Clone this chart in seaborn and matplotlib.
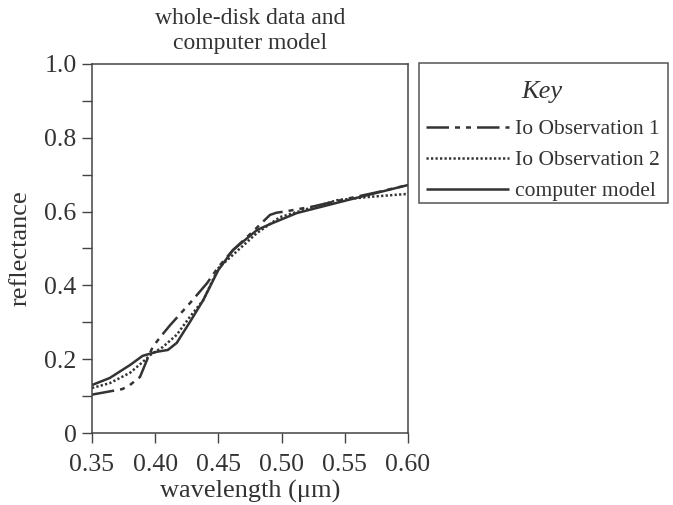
#!/usr/bin/env python3

import seaborn as sns
import matplotlib.pyplot as plt
from matplotlib.patches import Rectangle
from matplotlib.ticker import MultipleLocator, FixedLocator

# data
model_wl = [0.350, 0.364, 0.380, 0.390, 0.401, 0.410, 0.417, 0.4275, 0.438, 0.450,
            0.4616, 0.4805, 0.4908, 0.512, 0.552, 0.600]
model_refl = [0.130, 0.149, 0.184, 0.209, 0.220, 0.225, 0.244, 0.301, 0.360, 0.442,
              0.496, 0.550, 0.566, 0.596, 0.631, 0.672]

obs1_wl = [0.350, 0.374, 0.380, 0.388, 0.3935, 0.398, 0.404, 0.412, 0.4275, 0.441,
           0.450, 0.4616, 0.477, 0.4908, 0.496, 0.504, 0.525, 0.552, 0.575, 0.600]
obs1_refl = [0.104, 0.119, 0.130, 0.152, 0.198, 0.233, 0.260, 0.293, 0.352, 0.406,
             0.450, 0.496, 0.545, 0.591, 0.597, 0.601, 0.614, 0.635, 0.652, 0.672]

obs2_wl = [0.350, 0.364, 0.380, 0.390, 0.396, 0.406, 0.417, 0.4275, 0.438, 0.450,
           0.4805, 0.4987, 0.525, 0.544, 0.570, 0.600]
obs2_refl = [0.122, 0.135, 0.163, 0.192, 0.211, 0.233, 0.266, 0.315, 0.360, 0.447,
             0.542, 0.585, 0.612, 0.631, 0.640, 0.648]

x_ticks = [0.35, 0.40, 0.45, 0.50, 0.55, 0.60]
y_ticks = [0, 0.2, 0.4, 0.6, 0.8, 1.0]
y_labels = ['0', '0.2', '0.4', '0.6', '0.8', '1.0']

sns.set_style('white')
plt.rcParams['font.family'] = ['Liberation Serif', 'DejaVu Serif']

ink = '#333333'
lw = 1.8
W, H = 673, 505

fig = plt.figure(figsize=(6.73, 5.05), dpi=100)
ax = fig.add_axes([92 / W, 72 / H, 316 / W, 369 / H])

sns.lineplot(x=obs1_wl, y=obs1_refl, ax=ax, color=ink, lw=lw,
             label='Io Observation 1')
sns.lineplot(x=obs2_wl, y=obs2_refl, ax=ax, color=ink, lw=lw,
             label='Io Observation 2')
sns.lineplot(x=model_wl, y=model_refl, ax=ax, color=ink, lw=lw,
             label='computer model')

lines = ax.get_lines()
lines[0].set_dashes([9.0, 2.4, 2.0, 2.4, 2.0, 2.4])
lines[1].set_dashes([0.9, 0.9])
for ln in lines:
    ln.set_solid_capstyle('butt')
    ln.set_dash_capstyle('butt')

ax.set_xlim(0.35, 0.60)
ax.set_ylim(0, 1.0)
ax.xaxis.set_major_locator(FixedLocator(x_ticks))
ax.set_xticklabels(['%.2f' % v for v in x_ticks])
ax.yaxis.set_major_locator(FixedLocator(y_ticks))
ax.set_yticklabels(y_labels)
ax.yaxis.set_minor_locator(MultipleLocator(0.1))
ax.tick_params(axis='both', which='both', direction='out', length=7, width=1,
               color='#444444', labelsize=18.5, labelcolor=ink)
ax.tick_params(axis='x', which='major', pad=8)
ax.tick_params(axis='y', which='major', pad=4)
ax.tick_params(axis='x', which='minor', length=0)
ax.tick_params(left=True, bottom=True, right=False, top=False, which='both')
for sp in ax.spines.values():
    sp.set_visible(True)
    sp.set_color('#444444')
    sp.set_linewidth(1.1)

ax.set_xlabel('wavelength (μm)', fontsize=19, color=ink, labelpad=3)
ax.set_ylabel('reflectance', fontsize=19, color=ink, labelpad=9)
ax.set_title('whole-disk data and\ncomputer model', fontsize=17, color=ink,
             linespacing=1.3, pad=10.5)

# key: entries without frame, box drawn separately
leg = ax.legend(loc='upper left', bbox_to_anchor=(417 / W, (H - 72) / H, 249 / W, 0),
                bbox_transform=fig.transFigure, mode='expand', frameon=False,
                fontsize=15.5, handlelength=3.86, handletextpad=0.27,
                labelspacing=0.51, borderpad=0.4, borderaxespad=0, title='Key',
                title_fontproperties={'style': 'italic', 'size': 19})
leg._legend_box.sep = 12
for t in leg.get_texts():
    t.set_color(ink)
leg.get_title().set_color(ink)
fig.add_artist(Rectangle((419 / W, (H - 203) / H), 249 / W, 140 / H,
                         transform=fig.transFigure, fill=False,
                         edgecolor='#555555', linewidth=1.1))

fig.savefig('out.png', dpi=100)
